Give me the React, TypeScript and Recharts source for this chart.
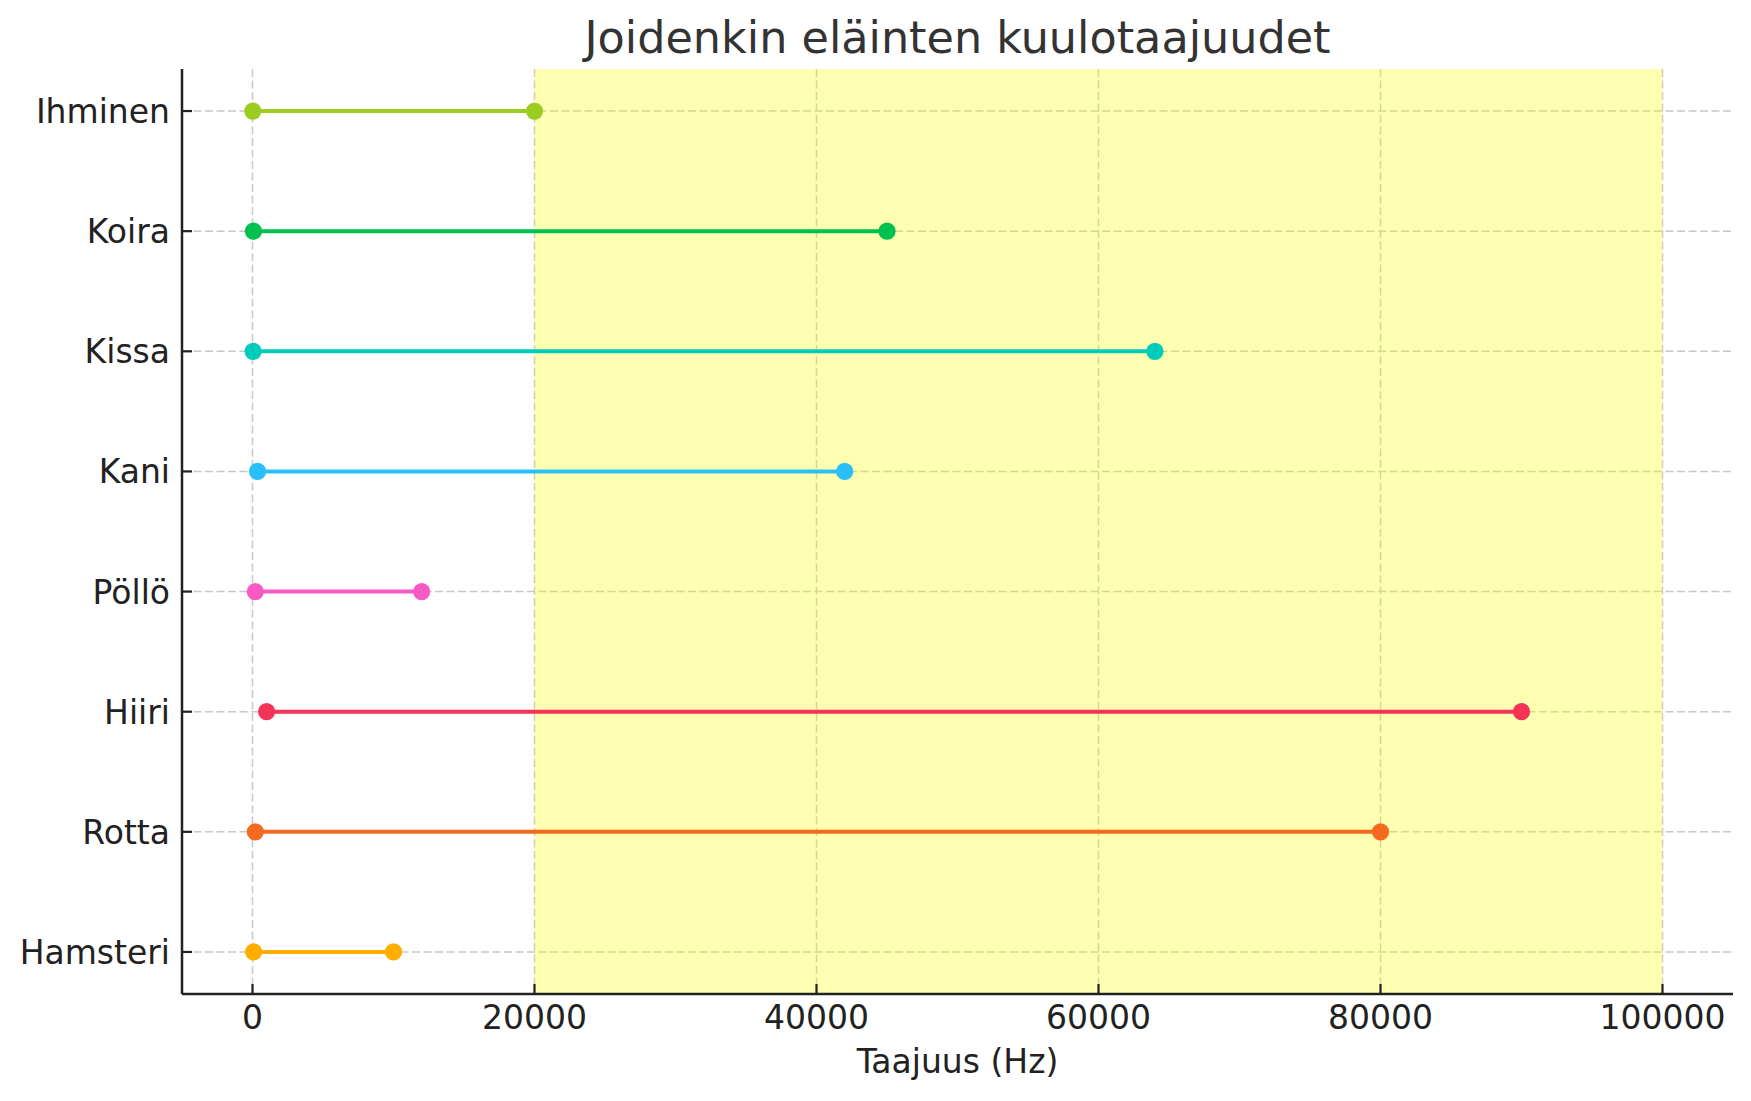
import { ScatterChart, Scatter, XAxis, YAxis, CartesianGrid, ReferenceArea } from 'recharts'

// bottom to top, same order as the y positions 0..7
const animals = ['Hamsteri', 'Rotta', 'Hiiri', 'Pöllö', 'Kani', 'Kissa', 'Koira', 'Ihminen']
const lowHz = [80, 200, 1000, 200, 360, 45, 67, 20]
const highHz = [10000, 80000, 90000, 12000, 42000, 64000, 45000, 20000]
const colors = ['#ffae00', '#f56a20', '#f53356', '#f75ac5', '#2bbffa', '#00ccbb', '#00c050', '#9acd1f']

const xTicks = [0, 20000, 40000, 60000, 80000, 100000]
const yTicks = [0, 1, 2, 3, 4, 5, 6, 7]
const ultrasound = [20000, 100000]

const FONT = '"DejaVu Sans", sans-serif'
const W = 1751
const H = 1101

const XTick = ({ x, y, payload }: any) => (
  <g>
    <line x1={x} x2={x} y1={y} y2={y - 10} stroke="#222" strokeWidth={2.2} />
    <text x={x} y={y + 35} textAnchor="middle" fontSize={33} fill="#222" fontFamily={FONT}>
      {payload.value}
    </text>
  </g>
)

const YTick = ({ x, y, payload }: any) => (
  <g>
    <line x1={x} x2={x + 10} y1={y} y2={y} stroke="#222" strokeWidth={2.2} />
    <text x={x - 12} y={y + 12} textAnchor="end" fontSize={33} fill="#222" fontFamily={FONT}>
      {animals[payload.value]}
    </text>
  </g>
)

const dot = (color: string) => (props: any) => (
  <circle cx={props.cx} cy={props.cy} r={8.6} fill={color} />
)

export default function App() {
  return (
    <div style={{ position: 'absolute', left: 0, top: 0, width: W, height: H, background: '#fff' }}>
      <ScatterChart width={W} height={H} margin={{ top: 69, right: 18, bottom: 0, left: 0 }}>
        <CartesianGrid stroke="#c8c8c8" strokeWidth={1.5} strokeDasharray="8 3.5" syncWithTicks />
        <ReferenceArea
          x1={ultrasound[0]}
          x2={ultrasound[1]}
          fill="#ffff00"
          fillOpacity={0.3}
          stroke="none"
          ifOverflow="hidden"
        />
        <XAxis
          type="number"
          dataKey="x"
          domain={[-5000, 105000]}
          ticks={xTicks}
          allowDataOverflow
          height={107}
          tickSize={0}
          tickMargin={0}
          tickLine={false}
          tick={<XTick />}
          axisLine={{ stroke: '#222', strokeWidth: 2.5 }}
        />
        <YAxis
          type="number"
          dataKey="y"
          domain={[-0.35, 7.35]}
          ticks={yTicks}
          allowDataOverflow
          width={182}
          tickSize={0}
          tickMargin={0}
          tickLine={false}
          tick={<YTick />}
          axisLine={{ stroke: '#222', strokeWidth: 2.5 }}
        />
        {animals.map((name, i) => (
          <Scatter
            key={name}
            name={name}
            data={[
              { x: lowHz[i], y: i },
              { x: highHz[i], y: i },
            ]}
            fill={colors[i]}
            line={{ stroke: colors[i], strokeWidth: 4 }}
            lineType="joint"
            shape={dot(colors[i])}
            isAnimationActive={false}
          />
        ))}
      </ScatterChart>
      <svg width={W} height={H} style={{ position: 'absolute', left: 0, top: 0, pointerEvents: 'none' }}>
        <text x={957.5} y={53} textAnchor="middle" fontSize={44.5} fill="#333" fontFamily={FONT}>
          Joidenkin eläinten kuulotaajuudet
        </text>
        <text x={957.5} y={1073} textAnchor="middle" fontSize={33} fill="#222" fontFamily={FONT}>
          Taajuus (Hz)
        </text>
      </svg>
    </div>
  )
}
